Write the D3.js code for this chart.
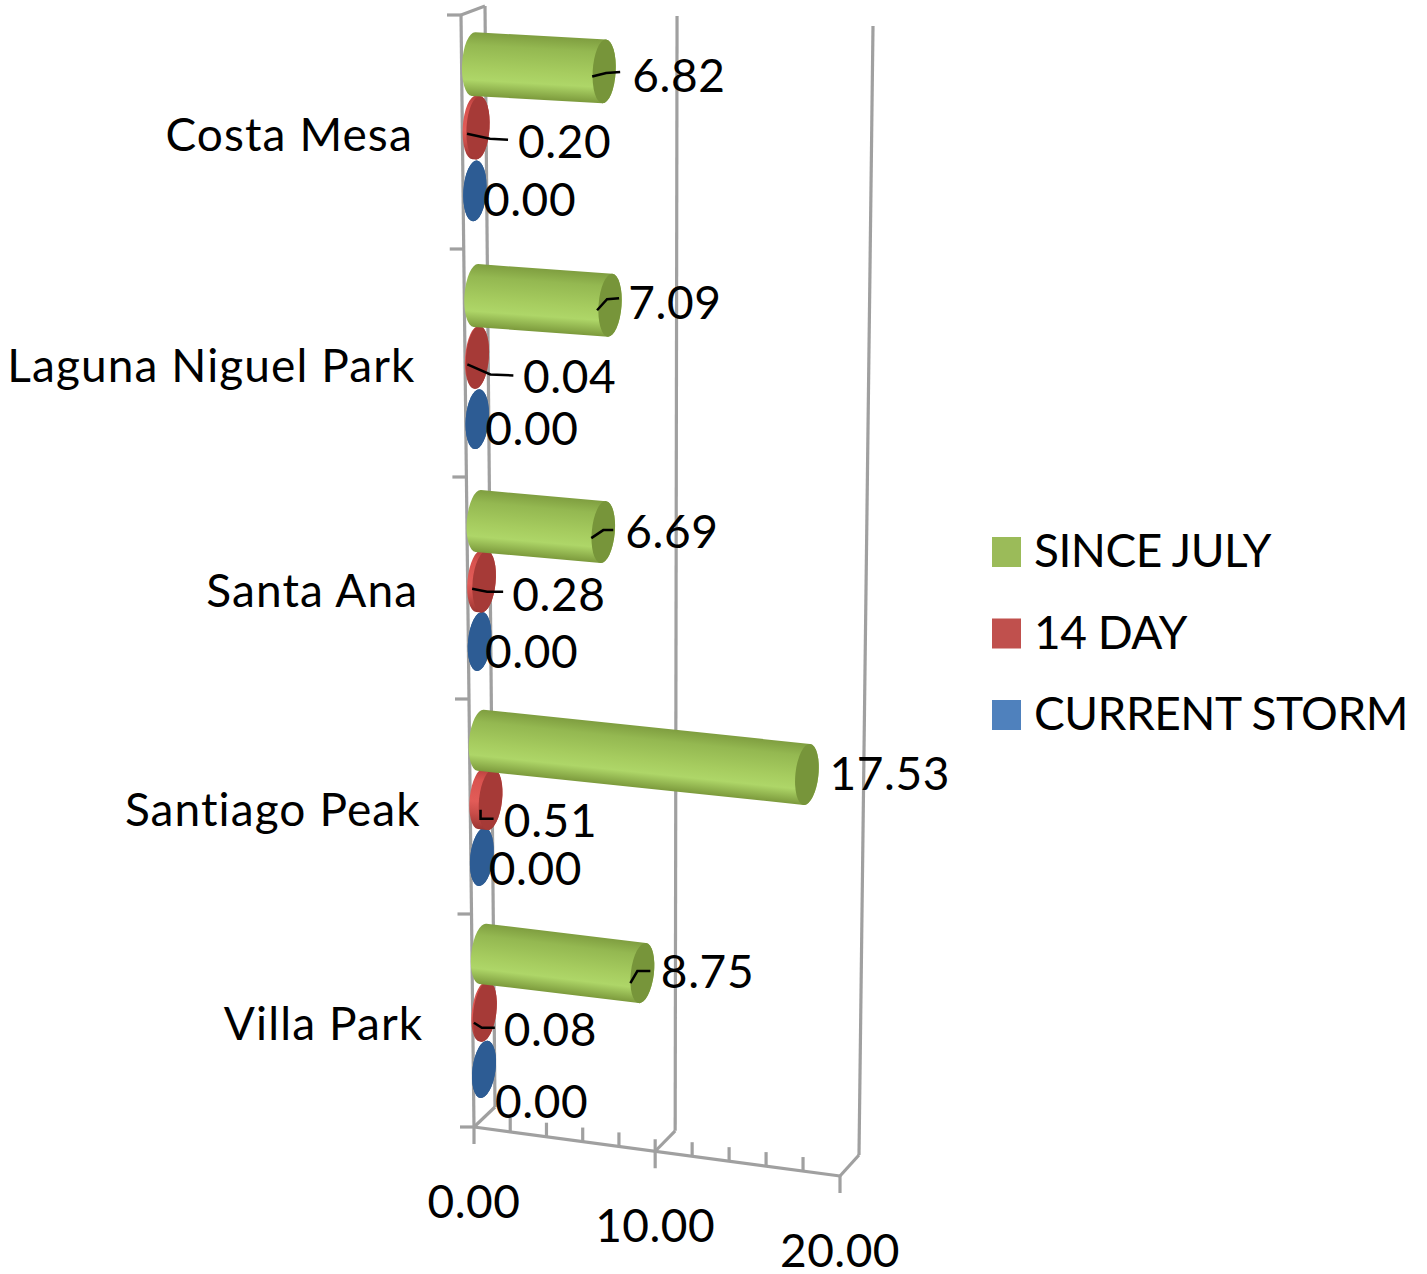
<!DOCTYPE html>
<html>
<head>
<meta charset="utf-8">
<script src="https://cdnjs.cloudflare.com/ajax/libs/d3/7.8.5/d3.min.js"></script>
<style>
    html, body { margin: 0; padding: 0; background: #fff; }
    svg { display: block; }
    text { font-family: Lato, "Open Sans", sans-serif; fill: #000; }
</style>
</head>
<body>
<script>
//data
var categories = ["Costa Mesa", "Laguna Niguel Park", "Santa Ana", "Santiago Peak", "Villa Park"];
var seriesNames = ["SINCE JULY", "14 DAY", "CURRENT STORM"];
var sinceJuly = [6.82, 7.09, 6.69, 17.53, 8.75];
var fourteenDay = [0.20, 0.04, 0.28, 0.51, 0.08];
var currentStorm = [0, 0, 0, 0, 0];
var valueTicks = [0, 10, 20];

//look of each series: body gradient stops, cap colour, legend colour
var looks = [
    { stops: ["#7f9e40", "#94b851", "#a6cc5f", "#aed668", "#7c9a3c"], cap: "#77953a", legend: "#9bbb59", shrink: 1 },
    { stops: ["#b5403d", "#d9534f", "#e25c58", "#c94d49", "#9c3532"], cap: "#a63a37", legend: "#c0504d", shrink: 1 },
    { stops: ["#2a5588", "#2f609a", "#31649f", "#2c5a90", "#285284"], cap: "#2d5c94", legend: "#4f81bd", shrink: 0.96 }
];

//hand placed data labels and leader lines, relative to the end of each bar [series][category]
var labelNudge = [
    [[26.5, 20.5], [16.6, 13.7], [20.5, 16], [22.6, 15.5], [17, 15]],
    [[40, 30], [45.6, 36], [28, 29], [13.3, 37], [19, 34]],
    [[8, 25], [8, 26], [5.5, 26.7], [7, 28], [11, 49]]
];
var leaders = [
    [[[-12, 5], [2, 1.5], [16, 0.5]], [[-13, 5], [-3, -6], [9, -7]], [[-12, 6], [0, -2], [10, -2]], null, [[-12, 10], [-5, -2], [8, -2]]],
    [[[-11, 6], [12, 11], [30, 12]], [[-10, 7], [13, 17], [36, 18]], [[-12, 7], [3, 10], [19, 10]], [[-10, 10], [-10, 19], [3, 19]], [[-11, 11], [-3, 16], [10, 16]]],
    [null, null, null, null, null]
];

var width = 1427,
    height = 1274,
    fontSize = 46,
    gridColor = "#a0a0a0";

var svg = d3.select("body").append("svg")
    .attr("width", width)
    .attr("height", height);
var defs = svg.append("defs");

//the 3D box: corners of front (d=0) and back (d=1) planes
var box = {
    front: { tl: [461, 15], bl: [474, 1127], tr: [849, 36], br: [840, 1176] },
    back: { tl: [485, 6], bl: [495, 1107], tr: [873, 26], br: [859, 1155] }
};

var x = d3.scaleLinear().domain([0, 10, 20]).range([0, 0.495, 1]);
//rows get shorter towards the viewer
var rowY = d3.scaleLinear().domain([0, 1, 2, 3, 4, 5]).range([15, 249, 477, 699, 914, 1127]);
var rowV = d3.scaleLinear().domain([15, 1127]).range([0, 1]);
var seriesOffset = d3.scalePoint().domain(seriesNames).range([0.23, 0.775]);

function lerp(a, b, t) {
    return [a[0] + (b[0] - a[0]) * t, a[1] + (b[1] - a[1]) * t];
}

function project(value, row, depth) {
    var u = x(value),
        v = rowV(rowY(row));
    var front = lerp(lerp(box.front.tl, box.front.tr, u), lerp(box.front.bl, box.front.br, u), v);
    var back = lerp(lerp(box.back.tl, box.back.tr, u), lerp(box.back.bl, box.back.br, u), v);
    return lerp(front, back, depth);
}

function drawLine(g, a, b) {
    g.append("line")
        .attr("x1", a[0]).attr("y1", a[1])
        .attr("x2", b[0]).attr("y2", b[1])
        .attr("stroke", gridColor)
        .attr("stroke-width", 3.2);
}

//walls and floor
var grid = svg.append("g");
valueTicks.forEach(function (t) {
    drawLine(grid, project(t, 0, 1), project(t, 5, 1));
    drawLine(grid, project(t, 5, 0), project(t, 5, 1));
});
drawLine(grid, project(0, 0, 0), project(0, 5, 0));
drawLine(grid, project(0, 0, 0), project(0, 0, 1));
drawLine(grid, project(0, 5, 0), project(20, 5, 0));

//ticks
d3.range(6).forEach(function (r) {
    var p = project(0, r, 0);
    drawLine(grid, [p[0] - 14, p[1]], p);
});
x.ticks(10).forEach(function (t) {
    var p = project(t, 5, 0);
    if (valueTicks.indexOf(t) >= 0) {
        drawLine(grid, [p[0], p[1] - (t > 0 && t < 20 ? 12 : 0)], [p[0], p[1] + 17]);
    } else {
        drawLine(grid, [p[0], p[1] - 14], p);
    }
});

svg.append("g").selectAll("text")
    .data(valueTicks)
    .enter().append("text")
    .attr("x", function (d) { return project(d, 5, 0)[0]; })
    .attr("y", function (d) { return project(d, 5, 0)[1] + 91; })
    .attr("text-anchor", "middle")
    .attr("font-size", fontSize)
    .attr("letter-spacing", 0.5)
    .text(d3.format(".2f"));

svg.append("g").selectAll("text")
    .data(categories)
    .enter().append("text")
    .attr("x", function (d, i) { return project(0, i + 0.5, 0)[0] - 49.5; })
    .attr("y", function (d, i) { return project(0, i + 0.5, 0)[1] + 19; })
    .attr("text-anchor", "end")
    .attr("font-size", fontSize)
    .attr("letter-spacing", 1.1)
    .text(function (d) { return d; });

//cylinders, back series first so that the green one sits on top
var allSeries = [sinceJuly, fourteenDay, currentStorm];
var bars = svg.append("g");

function drawBar(s, c) {
    var value = allSeries[s][c],
        look = looks[s],
        row = c + seriesOffset(seriesNames[s]);
    var p0 = project(0, row, 0.5),
        p1 = project(value, row, 0.5),
        far = project(20, row, 0.5);
    var angle = Math.atan2(far[1] - p0[1], far[0] - p0[0]),
        deg = angle * 180 / Math.PI;
    var ry = (32 - 2 * rowV(rowY(row))) * look.shrink,
        rx = 11.5;
    var nx = Math.sin(angle) * ry,
        ny = -Math.cos(angle) * ry;

    var id = "bar-" + s + "-" + c;
    var grad = defs.append("linearGradient")
        .attr("id", id)
        .attr("gradientUnits", "userSpaceOnUse")
        .attr("x1", p0[0] + nx).attr("y1", p0[1] + ny)
        .attr("x2", p0[0] - nx).attr("y2", p0[1] - ny);
    [0, 0.2, 0.55, 0.75, 1].forEach(function (o, i) {
        grad.append("stop").attr("offset", o).attr("stop-color", look.stops[i]);
    });

    var arc = "A" + rx + "," + ry + " " + deg + " 0 ";
    bars.append("path")
        .attr("d", "M" + (p0[0] + nx) + "," + (p0[1] + ny) +
            "L" + (p1[0] + nx) + "," + (p1[1] + ny) +
            arc + "1 " + (p1[0] - nx) + "," + (p1[1] - ny) +
            "L" + (p0[0] - nx) + "," + (p0[1] - ny) +
            arc + "1 " + (p0[0] + nx) + "," + (p0[1] + ny) + "Z")
        .attr("fill", "url(#" + id + ")");
    bars.append("ellipse")
        .attr("rx", rx)
        .attr("ry", ry)
        .attr("transform", "translate(" + p1[0] + "," + p1[1] + ") rotate(" + deg + ")")
        .attr("fill", look.cap);
}

categories.forEach(function (d, c) {
    d3.range(seriesNames.length).reverse().forEach(function (s) {
        drawBar(s, c);
    });
});

//data labels and leaders
var labels = svg.append("g");
allSeries.forEach(function (values, s) {
    values.forEach(function (value, c) {
        var end = project(value, c + seriesOffset(seriesNames[s]), 0.5);
        if (leaders[s][c]) {
            labels.append("path")
                .attr("d", d3.line()(leaders[s][c].map(function (o) {
                    return [end[0] + o[0], end[1] + o[1]];
                })))
                .attr("fill", "none")
                .attr("stroke", "#000")
                .attr("stroke-width", 2.5);
        }
        labels.append("text")
            .attr("x", end[0] + labelNudge[s][c][0] + (s == 0 && c != 3 ? 1.5 : 0))
            .attr("y", end[1] + labelNudge[s][c][1])
            .attr("font-size", fontSize)
            .attr("letter-spacing", 0.6)
            .text(d3.format(".2f")(value));
    });
});

//legend
var legendY = d3.scalePoint().domain(seriesNames).range([537, 700]);
var legend = svg.append("g").selectAll("g")
    .data(seriesNames)
    .enter().append("g")
    .attr("transform", function (d) { return "translate(992," + legendY(d) + ")"; });
legend.append("rect")
    .attr("width", 29)
    .attr("height", 30)
    .attr("fill", function (d, i) { return looks[i].legend; });
legend.append("text")
    .attr("x", 42)
    .attr("y", 30)
    .attr("font-size", fontSize)
    .attr("letter-spacing", -0.5)
    .text(function (d) { return d; });
</script>
</body>
</html>
